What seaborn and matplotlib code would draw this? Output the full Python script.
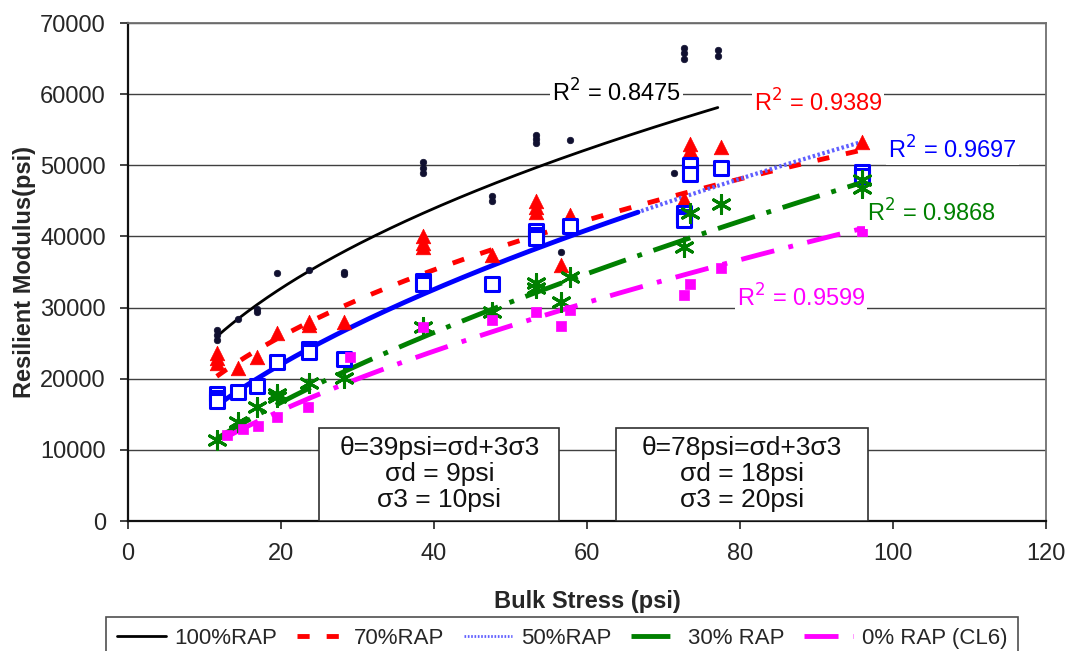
import numpy as np
import pandas as pd
import matplotlib
matplotlib.use("Agg")
import matplotlib.pyplot as plt
import seaborn as sns

# ---------------- data ----------------
x100 = [11.6, 11.6, 11.6, 14.4, 16.9, 16.9, 19.5, 23.7, 28.2, 28.2, 38.6, 38.6, 38.6,
        47.6, 47.6, 53.3, 53.3, 53.3, 57.8, 56.6, 72.7, 72.7, 72.7, 71.4, 77.1, 77.1]
y100 = [26900, 26200, 25500, 28400, 29400, 29800, 34900, 35300, 35000, 34700, 50400, 49600, 48900,
        45700, 45000, 54300, 53700, 53200, 53600, 37800, 66500, 65800, 65000, 48900, 66200, 65300]

x70 = [11.6, 11.6, 11.6, 14.4, 16.9, 19.5, 23.7, 23.7, 28.2, 38.6, 38.6, 38.6, 47.6,
       53.3, 53.3, 53.3, 57.8, 56.6, 72.7, 73.5, 73.5, 73.5, 77.5, 95.9]
y70 = [23600, 22900, 22200, 21500, 23100, 26400, 28000, 27500, 28000, 40000, 39100, 38500, 37400,
       45000, 44200, 43500, 43000, 36000, 45300, 53000, 52200, 51500, 52600, 53300]

x50 = [11.6, 11.6, 11.6, 14.4, 16.9, 19.5, 23.7, 23.7, 28.2, 38.6, 38.6, 47.6,
       53.3, 53.3, 53.3, 57.8, 72.7, 72.7, 72.7, 73.5, 73.5, 77.5, 95.9, 95.9]
y50 = [17800, 17300, 16800, 18100, 19000, 22400, 24200, 23700, 22800, 33800, 33300, 33300,
       40800, 40200, 39800, 41500, 43300, 42800, 42300, 50000, 48800, 49600, 49100, 48500]

x30 = [11.6, 14.4, 16.9, 19.5, 19.5, 23.7, 28.2, 38.6, 47.6, 53.3, 53.3, 57.8, 56.6,
       72.7, 73.5, 77.5, 95.9, 95.9]
y30 = [11400, 13900, 16000, 17400, 17900, 19400, 20100, 27300, 29400, 32800, 33500, 34300, 30800,
       38500, 43300, 44600, 46800, 48000]

x0 = [13.0, 15.0, 17.0, 19.5, 23.5, 29.0, 38.6, 47.6, 53.3, 57.8, 56.6, 72.7, 73.5, 77.5, 95.9]
y0 = [12100, 13000, 13300, 14600, 16000, 23000, 27300, 28200, 29400, 29600, 27400, 31800, 33300, 35600, 40800]

labels = ["100%RAP", "70%RAP", "50%RAP", "30% RAP", "0% RAP (CL6)"]
r2_text = ["0.8475", "0.9389", "0.9697", "0.9868", "0.9599"]
# power trendline coefficients y = a * x^b
trend_a = [9117, 6820, 4070, 2246, 2416]
trend_b = [0.4263, 0.4457, 0.5636, 0.669, 0.621]
xticks = [0, 20, 40, 60, 80, 100, 120]
yticks = [0, 10000, 20000, 30000, 40000, 50000, 60000, 70000]
box_texts = ["θ=39psi=σd+3σ3\nσd = 9psi\nσ3 = 10psi",
             "θ=78psi=σd+3σ3\nσd = 18psi\nσ3 = 20psi"]

# ---------------- style ----------------
sns.set_theme(style="white")
plt.rcParams['font.family'] = ['Liberation Sans', 'DejaVu Sans']

fig = plt.figure(figsize=(10.71, 6.51), dpi=100)
ax = fig.add_axes([128 / 1071, 1 - 521 / 651, (1046 - 128) / 1071, (521 - 23) / 651])

colors = ["black", "#FF0000", "#0000FF", "#008000", "#FF00FF"]
series = [(x100, y100), (x70, y70), (x50, y50), (x30, y30), (x0, y0)]

# gridlines
for yv in yticks[1:]:
    ax.axhline(yv, color="#404040", lw=1.0, zorder=0)

# ---------------- power trendlines ----------------
handles = []
styles = [
    dict(ls="-", lw=2.0),
    dict(ls=(0, (2.5, 3.5)), lw=3.5),
    None,
    dict(ls=(0, (8, 2.5, 1, 2.5)), lw=3.5),
    dict(ls=(0, (7, 3, 1, 3)), lw=3.5),
]
for i, (xs, ys) in enumerate(series):
    xx = np.linspace(min(xs), max(xs), 200)
    yy = trend_a[i] * xx ** trend_b[i]
    df = pd.DataFrame({"x": xx, "y": yy})
    if i == 2:
        solid = df[df.x <= 67]
        dotted = df[df.x >= 67]
        sns.lineplot(data=solid, x="x", y="y", ax=ax, color=colors[i], lw=3.5,
                     sort=False, zorder=3)
        sns.lineplot(data=dotted, x="x", y="y", ax=ax, color="#6060FF", lw=3.0,
                     ls=(0, (0.6, 0.6)), sort=False, zorder=3)
        h = plt.Line2D([], [], color="#6060FF", lw=2.0, ls=(0, (0.6, 0.6)))
    else:
        sns.lineplot(data=df, x="x", y="y", ax=ax, color=colors[i], sort=False,
                     zorder=3, **styles[i])
        h = plt.Line2D([], [], color=colors[i], **styles[i])
    handles.append(h)

# ---------------- data points ----------------
sns.scatterplot(x=x100, y=y100, ax=ax, marker="o", s=22, color="#101030",
                edgecolor="#101030", linewidth=0.5, zorder=4)
sns.scatterplot(x=x70, y=y70, ax=ax, marker="^", s=110, color="#FF0000",
                edgecolor="#FF0000", linewidth=0.5, zorder=4)
sns.scatterplot(x=x50, y=y50, ax=ax, marker="s", s=100, facecolor="white",
                edgecolor="#0000FF", linewidth=2.2, zorder=4)
sns.scatterplot(x=x30, y=y30, ax=ax, marker=(6, 2, 0), s=170, color="#008000",
                edgecolor="#008000", linewidth=2.2, zorder=4)
sns.scatterplot(x=x0, y=y0, ax=ax, marker="s", s=50, color="#FF00FF",
                edgecolor="#FF00FF", linewidth=0.5, zorder=4)

# ---------------- R^2 labels ----------------
r2_pos = [(63.8, 60200), (90.2, 58800), (107.8, 52200), (105.0, 43300), (88.0, 31400)]
for (px, py), t, c in zip(r2_pos, r2_text, colors):
    ax.text(px, py, r"R$^2$ = " + t, color=c, fontsize=17, ha="center", va="center",
            bbox=dict(facecolor="white", edgecolor="none", pad=1.5), zorder=5)

# ---------------- condition boxes ----------------
box_x = [(25.0, 56.4), (63.8, 96.7)]
for (x0b, x1b), t in zip(box_x, box_texts):
    ax.add_patch(plt.Rectangle((x0b, 0), x1b - x0b, 13100, facecolor="white",
                               edgecolor="#303030", lw=1.2, zorder=6))
    ax.text((x0b + x1b) / 2, 6600, t, ha="center", va="center", fontsize=19,
            linespacing=1.12, color="#111111", zorder=7)

# ---------------- axes ----------------
ax.set_xlim(0, 120)
ax.set_ylim(0, 70000)
ax.set_xticks(xticks)
ax.set_yticks(yticks)
ax.set_xticklabels([str(v) for v in xticks], fontsize=17)
ax.set_yticklabels([str(v) for v in yticks], fontsize=17)
ax.tick_params(axis="both", direction="out", length=6, width=1.2, color="#222222",
               bottom=True, left=True, pad=10)
ax.set_xlabel("Bulk Stress (psi)", fontsize=17, fontweight="bold", labelpad=18)
ax.set_ylabel("Resilient Modulus(psi)", fontsize=17, fontweight="bold", labelpad=3)
for side in ["top", "right"]:
    ax.spines[side].set_color("#707070")
    ax.spines[side].set_linewidth(1.3)
for side in ["left", "bottom"]:
    ax.spines[side].set_color("#111111")
    ax.spines[side].set_linewidth(1.6)
ax.grid(False)

leg = fig.legend(handles, labels, loc="upper center", bbox_to_anchor=(562 / 1071, 1 - 617 / 651),
                 ncol=5, fontsize=16, frameon=True, fancybox=False, edgecolor="#222222",
                 handlelength=2.2, handletextpad=0.4, columnspacing=0.85, borderpad=0.5,
                 borderaxespad=0.0)
leg.get_frame().set_linewidth(1.2)

fig.savefig("out.png", dpi=100)
